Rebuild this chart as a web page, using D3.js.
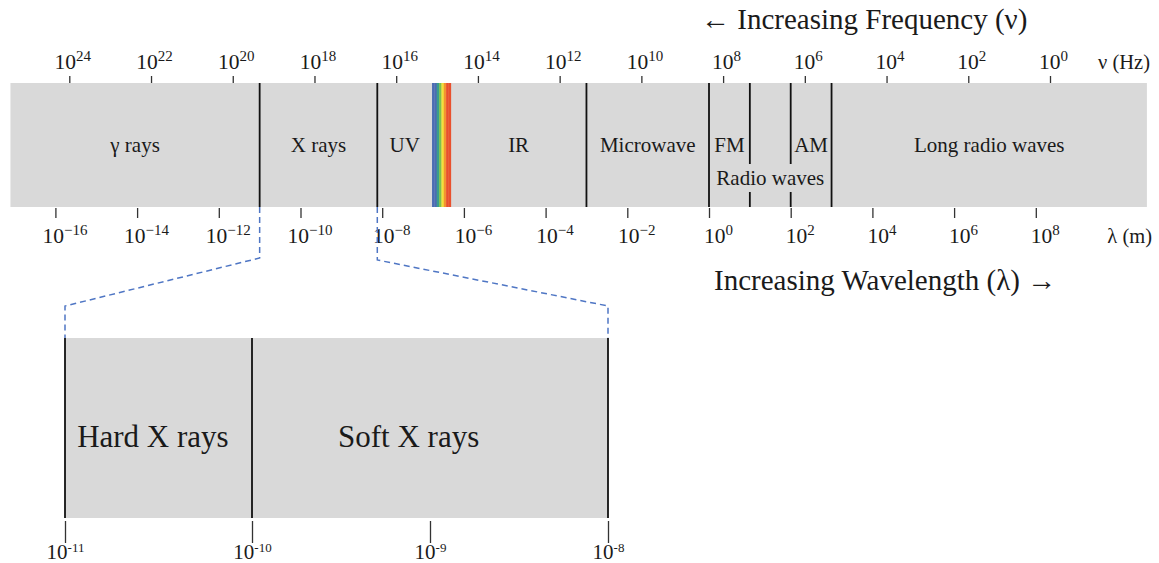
<!DOCTYPE html>
<html>
<head>
<meta charset="utf-8">
<script src="https://cdn.jsdelivr.net/npm/d3@7"></script>
<style>
  body { margin: 0; background: #fff; }
  svg text { font-family: "Liberation Serif", "Times New Roman", serif; fill: #1a1a1a; }
</style>
</head>
<body>
<script>
const width = 1159;
const height = 563;

// tick exponents (powers of ten)
const freqTicks = [24, 22, 20, 18, 16, 14, 12, 10, 8, 6, 4, 2, 0];       // Hz
const waveTicks = [-16, -14, -12, -10, -8, -6, -4, -2, 0, 2, 4, 6, 8];   // m
const zoomTicks = [-11, -10, -9, -8];                                     // m

// regions of the strip, as log10 of wavelength (m)
const bandNames = ["γ rays", "X rays", "UV", "IR", "Microwave", "FM", "AM", "Long radio waves"];
const bandLo    = [-17.1, -11, -8.12, -6.32, -3, 0, 2, 3];
const bandHi    = [-11, -8.12, -6.78, -3, 0, 1, 3, 10.72];

// divider lines (log10 wavelength)
const dividers = [-11, -8.12, -3, 0, 3];
const splitDividers = [1, 2];          // broken by the "Radio waves" label
const radioLo = 0, radioHi = 3;

// visible light strip
const visibleLo = -6.78, visibleHi = -6.32;
const rainbow = ["#4b6cb3", "#4b6cb3", "#3a9c8c", "#7cc04f", "#f3de3d", "#f29430", "#e9502d", "#e9502d"];

// zoomed X ray panel
const xrayNames = ["Hard X rays", "Soft X rays"];
const xrayLabelAt = [-10.53, -9.12];
const panelLines = [-11, -10, -8];

const bandTop = 83, bandBottom = 207;
const panelTop = 338, panelBottom = 518;

const svg = d3.select('body')
  .append('svg')
  .attr('width', width)
  .attr('height', height);

// scales
const xWave = d3.scaleLog().domain([1e-16, 1e8]).range([55.4, 1035.8]);
const xFreq = d3.scaleLog().domain([1e24, 1]).range([69.3, 1050]);
const xZoom = d3.scaleLog().domain([1e-11, 1e-10, 1e-8]).range([65, 252, 608]);
const xw = e => xWave(Math.pow(10, e));

// background strip
svg.append('rect')
  .attr('x', xw(bandLo[0]))
  .attr('y', bandTop)
  .attr('width', xw(bandHi[bandHi.length - 1]) - xw(bandLo[0]))
  .attr('height', bandBottom - bandTop)
  .attr('fill', '#d9d9d9');

// visible light rainbow
const stripW = (xw(visibleHi) - xw(visibleLo)) / rainbow.length;
svg.selectAll('rect.vis')
  .data(rainbow)
  .enter()
  .append('rect')
  .attr('class', 'vis')
  .attr('x', (d, i) => xw(visibleLo) + i * stripW)
  .attr('y', bandTop)
  .attr('width', stripW + 0.3)
  .attr('height', bandBottom - bandTop)
  .attr('fill', d => d);

// axes with 10^n labels
function powerLabels(g, y, dx, size, supSize, rise, minus) {
  g.attr('font-family', null).attr('font-size', null);
  g.select('.domain').remove();
  g.selectAll('.tick line').attr('stroke', '#333').attr('stroke-width', 1.3);
  g.selectAll('.tick text').each(function(d) {
    const e = Math.round(Math.log10(d));
    const t = d3.select(this)
      .text(null)
      .attr('y', y)
      .attr('dy', null)
      .attr('x', dx)
      .attr('font-size', size)
      .attr('text-anchor', 'middle')
      .attr('fill', '#1a1a1a');
    t.append('tspan').text('10');
    t.append('tspan')
      .attr('dy', -rise)
      .attr('font-size', supSize)
      .text(e < 0 ? minus + (-e) : e);
  });
}

svg.append('g')
  .attr('transform', `translate(0,${bandTop})`)
  .call(d3.axisTop(xFreq).tickValues(freqTicks.map(e => Math.pow(10, e))).tickSize(7).tickFormat(''))
  .call(g => powerLabels(g, -14, 3, 21.5, 15, 8.5, '−'));

svg.append('g')
  .attr('transform', `translate(0,${bandBottom + 1})`)
  .call(d3.axisBottom(xWave).tickValues(waveTicks.map(e => Math.pow(10, e))).tickSize(10).tickFormat(''))
  .call(g => powerLabels(g, 35, 9, 21.5, 15, 8.5, '−'));

// divider lines
svg.selectAll('line.div')
  .data(dividers)
  .enter()
  .append('line')
  .attr('class', 'div')
  .attr('x1', d => xw(d)).attr('x2', d => xw(d))
  .attr('y1', bandTop).attr('y2', bandBottom)
  .attr('stroke', '#111')
  .attr('stroke-width', 1.8);

const splitSegs = [];
splitDividers.forEach(d => {
  splitSegs.push([d, bandTop, 164]);
  splitSegs.push([d, 192, bandBottom]);
});
svg.selectAll('line.split')
  .data(splitSegs)
  .enter()
  .append('line')
  .attr('class', 'split')
  .attr('x1', d => xw(d[0])).attr('x2', d => xw(d[0]))
  .attr('y1', d => d[1]).attr('y2', d => d[2])
  .attr('stroke', '#111')
  .attr('stroke-width', 1.8);

// band names
svg.selectAll('text.band')
  .data(bandNames)
  .enter()
  .append('text')
  .attr('class', 'band')
  .attr('x', (d, i) => (xw(bandLo[i]) + xw(bandHi[i])) / 2)
  .attr('y', 152)
  .attr('text-anchor', 'middle')
  .attr('font-size', 21)
  .text(d => d);

svg.append('text')
  .attr('x', (xw(radioLo) + xw(radioHi)) / 2)
  .attr('y', 185)
  .attr('text-anchor', 'middle')
  .attr('font-size', 21)
  .text('Radio waves');

// unit labels and titles
svg.append('text')
  .attr('x', 1150).attr('y', 69)
  .attr('text-anchor', 'end')
  .attr('font-size', 20.5)
  .text('ν (Hz)');

svg.append('text')
  .attr('x', 1152).attr('y', 243)
  .attr('text-anchor', 'end')
  .attr('font-size', 20.5)
  .text('λ (m)');

svg.append('text')
  .attr('x', 701).attr('y', 29)
  .attr('font-size', 29)
  .text('← Increasing Frequency (ν)');

svg.append('text')
  .attr('x', 714).attr('y', 290)
  .attr('font-size', 29)
  .text('Increasing Wavelength (λ) →');

// dashed zoom connectors
const connectors = [
  [[xw(-11), bandBottom], [xw(-11), 258], [xZoom(1e-11), 306], [xZoom(1e-11), panelTop]],
  [[xw(-8.12), bandBottom], [xw(-8.12), 260], [xZoom(1e-8), 306], [xZoom(1e-8), panelTop]]
];
svg.selectAll('path.conn')
  .data(connectors)
  .enter()
  .append('path')
  .attr('class', 'conn')
  .attr('d', d3.line())
  .attr('fill', 'none')
  .attr('stroke', '#4f76c4')
  .attr('stroke-width', 1.5)
  .attr('stroke-dasharray', '6,4');

// zoomed X ray panel
svg.append('rect')
  .attr('x', xZoom(1e-11))
  .attr('y', panelTop)
  .attr('width', xZoom(1e-8) - xZoom(1e-11))
  .attr('height', panelBottom - panelTop)
  .attr('fill', '#d9d9d9');

svg.append('g')
  .attr('transform', `translate(0,${panelBottom + 3})`)
  .call(d3.axisBottom(xZoom).tickValues(zoomTicks.map(e => Math.pow(10, e))).tickSize(22).tickFormat(''))
  .call(g => powerLabels(g, 38, 0, 21, 13, 7, '-'));

svg.selectAll('line.pdiv')
  .data(panelLines)
  .enter()
  .append('line')
  .attr('class', 'pdiv')
  .attr('x1', d => xZoom(Math.pow(10, d))).attr('x2', d => xZoom(Math.pow(10, d)))
  .attr('y1', panelTop).attr('y2', panelBottom)
  .attr('stroke', '#111')
  .attr('stroke-width', 1.8);

svg.selectAll('text.xray')
  .data(xrayNames)
  .enter()
  .append('text')
  .attr('class', 'xray')
  .attr('x', (d, i) => xZoom(Math.pow(10, xrayLabelAt[i])))
  .attr('y', 447)
  .attr('text-anchor', 'middle')
  .attr('font-size', 31)
  .text(d => d);
</script>
</body>
</html>
